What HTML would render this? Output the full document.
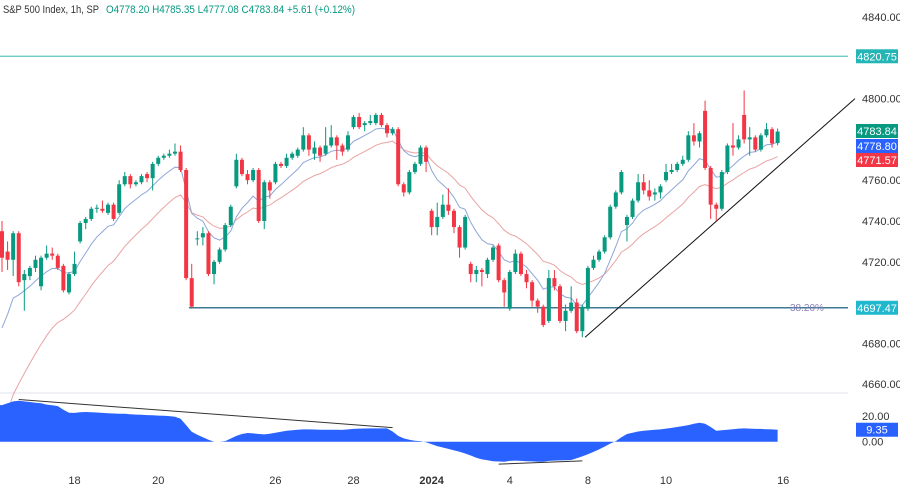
<!DOCTYPE html>
<html><head><meta charset="utf-8">
<style>
html,body{margin:0;padding:0;background:#fff;}
svg{display:block;font-family:"Liberation Sans",sans-serif;}
</style></head>
<body>
<svg id="chart" width="900" height="487" viewBox="0 0 900 487" xmlns="http://www.w3.org/2000/svg">
<g id="header">
  <text x="3" y="13" font-size="11" fill="#333" textLength="96" lengthAdjust="spacingAndGlyphs">S&amp;P 500 Index, 1h, SP</text>
  <text x="106" y="13" font-size="11" fill="#089981" textLength="249" lengthAdjust="spacingAndGlyphs">O4778.20  H4785.35  L4777.08  C4783.84  +5.61 (+0.12%)</text>
</g>
<g id="grid"></g>
<g id="lines"></g>
<g id="candles"></g>
<g id="osc"></g>
<g id="axis"></g>
</svg>
<script>
const opens=[4735,4725,4721,4734,4711,4713,4717,4708,4722,4724,4723,4718,4705,4714,4730,4739,4741,4746,4746,4744,4748,4744,4758,4762,4758,4759,4763,4761,4768,4771,4772,4773,4774,4765,4712,4731,4732,4734,4714,4720,4726,4738,4757,4770,4763,4760,4765,4740,4759,4759,4768,4767,4771,4772,4775,4782,4773,4776,4773,4777,4781,4777,4775,4786,4791,4787,4788,4788,4792,4787,4783,4785,4758,4754,4764,4768,4776,4745,4737,4742,4748,4745,4737,4727,4719,4714,4716,4714,4721,4728,4711,4697,4715,4724,4714,4710,4701,4698,4691,4712,4708,4691,4696,4700,4686,4697,4717,4721,4725,4732,4747,4754,4738,4742,4750,4759,4755,4753,4754,4760,4764,4765,4768,4770,4782,4779,4794,4766,4748,4746,4764,4777,4776,4792,4780,4781,4775,4782,4785,4778.2];
const closes=[4722,4721,4734,4710,4714,4717,4721,4722,4724,4723,4717,4706,4714,4719,4739,4741,4746,4746.5,4745,4748,4741,4758,4762,4758,4759,4762,4761,4768,4771,4772,4773,4774,4765,4712,4698,4731.5,4734,4714,4720,4726,4738,4747,4770,4763,4760,4765,4740,4759,4755,4768,4767,4771,4773,4775,4782,4775,4776,4772,4777,4781,4777,4774,4782,4791,4786,4788,4789,4792,4787,4783,4785,4758,4754,4764,4768,4776,4769,4737,4742,4748,4745,4737,4727,4742,4714,4716,4715,4721,4727,4711,4705,4715,4724,4714,4710,4701,4698,4689,4712,4708,4691,4696,4700,4686,4698,4717,4721,4725,4732,4747,4754,4764,4742,4750,4759,4755,4752,4754,4757,4764,4765,4768,4770,4782,4779,4783,4766,4748,4746,4764,4777,4776,4780,4780,4781,4775,4782,4785,4778,4783.84];
const highs=[4740,4730,4735,4735,4716,4718,4723,4723,4728,4727,4724,4719,4715,4725,4740,4742,4747,4748,4750,4749,4749,4760,4764,4763,4760,4763,4764,4769,4772,4773,4775,4778,4777,4766,4719,4735,4737,4735,4721,4727,4739,4748,4773,4771,4765,4766,4766,4760,4760,4769,4769,4773,4774,4776,4786,4783,4779,4777,4786,4787,4782,4778,4784,4792,4793,4789,4792,4793,4793,4788,4786,4786,4759,4765,4769,4777,4777,4746,4749,4753,4756,4746,4738,4743,4720,4718,4717,4722,4728,4729,4712,4716,4726,4725,4716,4711,4702,4699,4716,4716,4709,4699,4708,4702,4699,4718,4723,4726,4733,4748,4755,4765,4743,4751,4763,4763,4760,4756,4758,4768,4768,4769,4772,4784,4788,4784,4799,4767,4749,4765,4778,4788,4782,4804,4786,4782,4783,4788,4786,4785.35];
const lows=[4715,4716,4713,4708,4696,4711,4715,4706,4721,4721,4716,4705,4704,4713,4729,4736,4740,4744,4744,4743,4740,4743,4757,4756,4757,4758,4759,4755,4767,4770,4771,4772,4764,4711,4697,4728,4728,4713,4709,4719,4725,4737,4756,4762,4758,4759,4739,4736,4751,4758,4766,4766,4770,4771,4774,4772,4770,4769,4772,4776,4770,4772,4774,4785,4785,4784,4787,4787,4786,4781,4782,4757,4752,4753,4763,4767,4764,4733,4733,4741,4743,4734,4722,4726,4710,4710,4708,4712,4720,4710,4698,4696,4714,4713,4707,4698,4695,4688,4690,4706,4690,4686,4695,4685,4683,4696,4716,4720,4724,4731,4746,4753,4730,4741,4749,4753,4750,4750,4751,4759,4763,4764,4767,4769,4777,4776,4765,4741,4740,4745,4763,4772,4775,4778,4772,4774,4774,4781,4776,4777.08];
const oscValues=[28.6,30,31.5,32,31.5,31,30.5,30,29,28.5,27.8,25,22.6,22.5,23,23.2,23,22.8,22.5,22.2,22,21.8,21.8,21.5,21.2,21,20.8,20.6,20.4,20.2,20,19.5,18,13,7.8,5.5,3.5,1.5,0,0,0.5,2.5,4.5,6,6.8,6.5,6,5.7,6.2,7,7.8,8.5,9,9.4,9.6,9.6,9.5,9.4,9.3,9.4,9.3,9.2,9.6,10,10.2,10.3,10.4,10.4,10.4,10.4,8,4.5,2.6,1.5,0.8,0.5,-0.5,-2,-3.4,-4.5,-5.6,-6.8,-7.8,-9.2,-10.8,-12.5,-13.8,-14.5,-15.2,-15.5,-15.6,-15,-14.8,-15,-15.2,-15.4,-15.6,-15.6,-15,-14.8,-14.6,-14.5,-14.3,-13,-11.5,-9.8,-8,-6,-3.8,-1.5,0.5,3.5,6,7,8,8.6,9,9.4,9.6,10.2,10.8,11.5,12.2,13,14,14.8,14,11.5,8.6,9,9.4,9.8,10.2,10.4,10.2,10,10,9.8,9.6,9.35];
const priceTicks=[4840,4800,4760,4740,4720,4680,4660];
const oscTicks=[20,0];
const dateLabels=["18","20","26","28","2024","4","8","10","16"];
const dateIndex=[13,28,49,63,77,91,105,119,140];
const resistanceLevel=4820.75, supportLevel=4697.47;
const fastMaSeed=4679, slowMaSeed=4630;

const NS="http://www.w3.org/2000/svg";
const X=i=>2+i*5.58;
const Y=p=>17+(4840-p)*2.04;
const OY=v=>441.7-v*1.28;
function mk(tag,attrs,parent,text){const e=document.createElementNS(NS,tag);for(const k in attrs)e.setAttribute(k,attrs[k]);if(text!==undefined)e.textContent=text;document.getElementById(parent).appendChild(e);return e;}

let sep=mk('line',{x1:0,x2:848,y1:393,y2:393,stroke:'#e0e3eb','stroke-width':1},'grid');



let r=mk('line',{x1:0,x2:848,y1:Y(resistanceLevel),y2:Y(resistanceLevel),stroke:'#5cc2c2','stroke-width':1.2},'lines');


let s=mk('line',{x1:X(33.5),x2:848,y1:Y(supportLevel),y2:Y(supportLevel),stroke:'#3f7a94','stroke-width':1.5},'lines');


let fl=mk('text',{x:790,y:Y(supportLevel)+3,'font-size':10,fill:'#8a80b8'},'lines','38.20%');



function ema(seed,period){const k=2/(period+1);let v=seed;return closes.map(c=>{v=v+k*(c-v);return v;});}
const fast=ema(fastMaSeed,9), slow=ema(slowMaSeed,20);
let sp=mk('path',{d:slow.map((v,i)=>(i?'L':'M')+X(i).toFixed(1)+' '+Y(v).toFixed(1)).join(''),fill:'none',stroke:'#e9a3a3','stroke-width':1},'lines');


let fp=mk('path',{d:fast.map((v,i)=>(i?'L':'M')+X(i).toFixed(1)+' '+Y(v).toFixed(1)).join(''),fill:'none',stroke:'#8ea6d8','stroke-width':1},'lines');



let tl=mk('line',{x1:X(104.5),y1:Y(4683),x2:855,y2:Y(4800),stroke:'#111','stroke-width':1},'lines');



for(let i=0;i<opens.length;i++){
  const up=closes[i]>=opens[i],col=up?'#089981':'#f23645',x=X(i);
  const g=mk('g',{},'candles');
  
  
  const w=document.createElementNS(NS,'line');
  w.setAttribute('x1',x);w.setAttribute('x2',x);w.setAttribute('y1',Y(highs[i]));w.setAttribute('y2',Y(lows[i]));w.setAttribute('stroke',col);w.setAttribute('stroke-width',1);
  g.appendChild(w);
  const top=Y(Math.max(opens[i],closes[i])),bot=Y(Math.min(opens[i],closes[i]));
  const b=document.createElementNS(NS,'rect');
  b.setAttribute('x',x-2);b.setAttribute('y',top);b.setAttribute('width',4);b.setAttribute('height',Math.max(1,bot-top));b.setAttribute('fill',col);
  g.appendChild(b);
}

let oa=mk('path',{fill:'#2962ff',stroke:'none'},'osc');
oa.setAttribute('d','M0 '+OY(0)+' L0 '+OY(oscValues[0])+' '+oscValues.map((v,i)=>'L'+X(i).toFixed(1)+' '+OY(v).toFixed(1)).join(' ')+' L'+X(oscValues.length-1)+' '+OY(0)+' Z');


let d1=mk('line',{x1:X(3),y1:OY(33),x2:X(70),y2:OY(11),stroke:'#333','stroke-width':1},'osc');


let d2=mk('line',{x1:X(89),y1:OY(-17.5),x2:X(104),y2:OY(-15),stroke:'#333','stroke-width':1},'osc');



priceTicks.forEach(p=>{const t=mk('text',{x:862,y:Y(p)+4,'font-size':11,fill:'#333'},'axis',p.toFixed(2));

});
oscTicks.forEach(v=>{const t=mk('text',{x:862,y:OY(v)+4,'font-size':11,fill:'#333'},'axis',v.toFixed(2));

});
dateLabels.forEach((d,i)=>{const t=mk('text',{x:X(dateIndex[i]),y:484,'font-size':11,fill:'#333','text-anchor':'middle','font-weight':d==='2024'?'bold':'normal'},'axis',d);

});

function badge(val,y,bg,name){
  const g=mk('g',{},'axis');
  
  
  const rr=document.createElementNS(NS,'rect');
  rr.setAttribute('x',856);rr.setAttribute('y',y-7);rr.setAttribute('width',42);rr.setAttribute('height',14);rr.setAttribute('fill',bg);g.appendChild(rr);
  const t=document.createElementNS(NS,'text');
  t.setAttribute('x',877);t.setAttribute('y',y+4);t.setAttribute('font-size',11);t.setAttribute('fill','#fff');t.setAttribute('text-anchor','middle');t.textContent=val;g.appendChild(t);
}
badge(resistanceLevel.toFixed(2),Y(resistanceLevel),'#26b5b5','resistance-badge');
badge(closes[closes.length-1].toFixed(2),131,'#089981','last-price-badge');
badge(fast[fast.length-1].toFixed(2),146,'#2962ff','fast-ma-badge');
badge(slow[slow.length-1].toFixed(2),160,'#f23645','slow-ma-badge');
badge(supportLevel.toFixed(2),Y(supportLevel),'#1fb8cd','fib-badge');
badge(oscValues[oscValues.length-1].toFixed(2),OY(oscValues[oscValues.length-1]),'#2962ff','osc-value-badge');
</script>
</body></html>
